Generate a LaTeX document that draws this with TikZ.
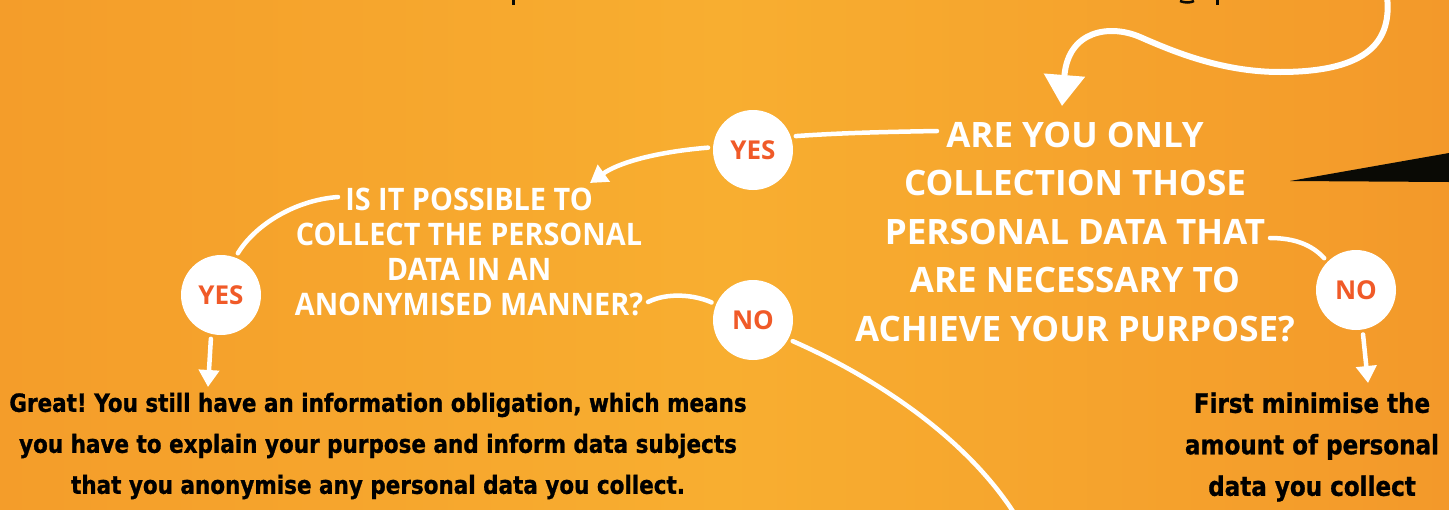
\documentclass[tikz,border=0pt]{standalone}
\usepackage{fontspec}
\usetikzlibrary{arrows.meta}
\frenchspacing
\newfontfamily\qfontA[FakeStretch=1.0]{Open Sans}
\newfontfamily\qfontB[FakeStretch=0.93]{Open Sans}
\newfontfamily\bfont[FakeStretch=0.86,FakeBold=1]{DejaVu Sans}
\definecolor{bgL}{RGB}{244,157,42}
\definecolor{bgM}{RGB}{248,174,48}
\definecolor{bgR}{RGB}{243,153,42}
\definecolor{circtxt}{RGB}{240,90,40}
\definecolor{wedge}{RGB}{10,10,5}
\tikzset{
  circ/.style={circle, fill=white, minimum size=80pt, inner sep=0pt, outer sep=5pt,
    text=circtxt, font=\qfontA\bfseries\fontsize{26}{26}\selectfont},
  qbig/.style={text=white, align=center, inner sep=0pt,
    font=\qfontA\bfseries\fontsize{35}{48.5}\selectfont},
  qsmall/.style={text=white, align=center, inner sep=0pt,
    font=\qfontB\bfseries\fontsize{31}{35}\selectfont},
  result/.style={text=black, align=center, inner sep=0pt,
    font=\bfont\bfseries\frenchspacing\fontsize{25}{41}\selectfont},
  resultB/.style={result, font=\bfont\bfseries\fontsize{26.8}{41.5}\selectfont},
  conn/.style={draw=white, line width=4.5pt, line cap=round},
  arr/.style={conn, -{Triangle[width=20pt,length=17pt]}},
  bigarr/.style={draw=white, line width=6pt, line cap=round, -{Triangle[width=40pt,length=31pt]}}
}
\begin{document}
\begin{tikzpicture}[x=1pt,y=-1pt]
\useasboundingbox (0,0) rectangle (1449,509);
\shade[left color=bgL, right color=bgR, middle color=bgM] (0,0) rectangle (1449,509);

% cut-off black marks at the top edge
\fill[wedge] (512,0) rectangle (515,5);
\fill[wedge] (1216,0) rectangle (1219,5);
\draw[wedge, line width=2.5pt] (1180,1) .. controls (1185,3) and (1190,3) .. (1194,1);
% black wedge at the right
\fill[wedge] (1290,181) -- (1449,153) -- (1449,182) -- cycle;

% text nodes
\node[qbig] (q1) at (1075,232) {ARE YOU ONLY\\COLLECTION THOSE\\PERSONAL DATA THAT\\ARE NECESSARY TO\\ACHIEVE YOUR PURPOSE?};
\node[qsmall] (q2) at (469,252) {IS IT POSSIBLE TO\\COLLECT THE PERSONAL\\DATA IN AN\\ANONYMISED MANNER?};
\node[result] (r1) at (378,446) {Great! You still have an information obligation, which means\\you have to explain your purpose and inform data subjects\\that you anonymise any personal data you collect.};
\node[resultB] (r2) at (1312,447) {First minimise the\\amount of personal\\data you collect};

% circles
\node[circ] (yes1) at (753,150) {YES};
\node[circ] (no1) at (1356,290) {NO};
\node[circ] (yes2) at (221,295) {YES};
\node[circ] (no2) at (753,320) {NO};

% connector end points on the texts
\coordinate (topin) at (1387,-4);
\coordinate (q1n) at (1062,106);
\coordinate (q1w) at (937,131);
\coordinate (q1e) at (1270,238);
\coordinate (q2ne) at (590,183);
\coordinate (q2w) at (338,197);
\coordinate (q2e) at (648,302);
\coordinate (r1n) at (208,387);
\coordinate (r2n) at (1368,383);
\coordinate (offb) at (1016,516);

% connectors
\draw[bigarr] (topin) .. controls (1392,40) and (1370,72) .. (1280,72)
  .. controls (1220,72) and (1170,50) .. (1140,37)
  .. controls (1110,24) and (1068,30) .. (q1n);
\draw[conn] (q1w) .. controls (880,132) and (840,133) .. (yes1.18);
\draw[arr] (yes1.177) .. controls (655,152) and (618,163) .. (q2ne);
\draw[conn] (q2w) .. controls (295,200) and (255,225) .. (yes2.68);
\draw[arr] (yes2.-103) -- (r1n);
\draw[conn] (q2e) .. controls (668,292) and (695,295) .. (no2.157);
\draw[conn] (no2.-28) .. controls (870,375) and (965,435) .. (offb);
\draw[conn] (q1e) .. controls (1295,238) and (1312,245) .. (no1.135);
\draw[arr] (no1.-81) -- (r2n);
\end{tikzpicture}
\end{document}
